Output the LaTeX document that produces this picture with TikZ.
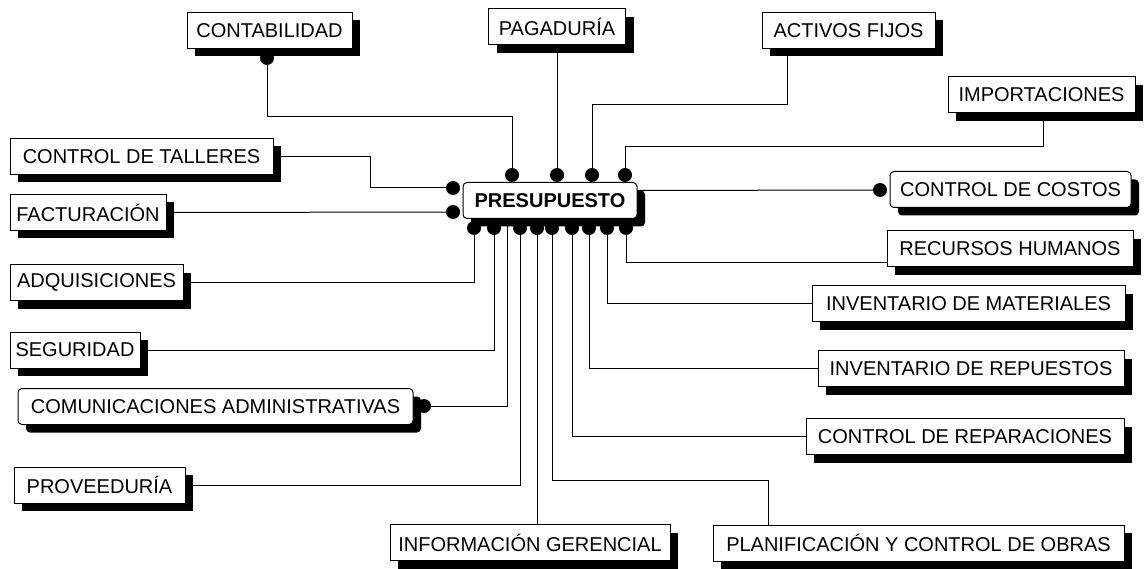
\documentclass[tikz,border=0pt]{standalone}
\usepackage{fontspec}
\setmainfont{Liberation Sans}
\usetikzlibrary{calc,shadows}
\tikzset{
  unit/.style={draw, line width=1pt, fill=white, minimum height=36, inner xsep=3,
    font=\fontsize{20}{24}\selectfont,
    drop shadow={shadow xshift=8pt, shadow yshift=-8pt, opacity=1, fill=black}},
  rounit/.style={unit, rounded corners=4pt},
  pin/.style={circle, fill=black, inner sep=0pt, minimum size=14},
  wire/.style={line width=1pt}
}

\begin{document}
\begin{tikzpicture}[x=1pt, y=-1pt]
  \useasboundingbox (0,0) rectangle (1145,569);
  % central box
  \node[rounit, minimum width=174, font=\fontsize{20}{24}\selectfont\bfseries] (presu) at (550,200.5) {PRESUPUESTO};
  % top row
  \node[unit, minimum width=165] (conta) at (269.5,30.5) {CONTABILIDAD};
  \node[unit, minimum width=137] (paga) at (557,27) {PAGADURÍA};
  \node[unit, minimum width=173] (activos) at (848.5,30.5) {ACTIVOS FIJOS};
  \node[unit, minimum width=187] (impo) at (1041.5,95) {IMPORTACIONES};
  % left column
  \node[unit, minimum width=263] (talleres) at (141.5,156.5) {CONTROL DE TALLERES};
  \node[unit, minimum width=156] (factu) at (88,212.5) {FACTURACIÓN};
  \node[unit, minimum width=173] (adqui) at (96.5,282.5) {ADQUISICIONES};
  \node[unit, minimum width=130] (segur) at (75,350) {SEGURIDAD};
  \node[rounit, minimum width=395] (comunic) at (215.5,406.5) {COMUNICACIONES ADMINISTRATIVAS};
  \node[unit, minimum width=171] (proveed) at (99.5,485) {PROVEEDURÍA};
  % right column
  \node[rounit, minimum width=241] (costos) at (1010.5,189.5) {CONTROL DE COSTOS};
  \node[unit, minimum width=246] (recursos) at (1010,249) {RECURSOS HUMANOS};
  \node[unit, minimum width=313] (materiales) at (968.5,303.5) {INVENTARIO DE MATERIALES};
  \node[unit, minimum width=306] (repuestos) at (971,368.5) {INVENTARIO DE REPUESTOS};
  \node[unit, minimum width=318] (reparac) at (965,436.5) {CONTROL DE REPARACIONES};
  % bottom row
  \node[unit, minimum width=280] (infoger) at (530,542.5) {INFORMACIÓN GERENCIAL};
  \node[unit, minimum width=411] (planif) at (918.5,543) {PLANIFICACIÓN Y CONTROL DE OBRAS};

  % pins
  \node[pin] (t1) at (512,175) {};
  \node[pin] (t2) at (557,175) {};
  \node[pin] (t3) at (592,175) {};
  \node[pin] (t4) at (625,175) {};
  \node[pin] (l1) at (453,188) {};
  \node[pin] (l2) at (453,212) {};
  \foreach \i/\x in {1/474,2/494,3/520,4/537,5/552,6/572,7/589,8/607,9/626}
    \node[pin] (b\i) at (\x,228) {};
  \node[pin] (cd) at (267,58) {};
  \node[pin] (cc) at (880,190) {};
  \node[pin] (cm) at (424,406) {};
  \coordinate (tap) at (507,222);

  % wires
  \draw[wire] (cd.center) -- ++(0,59) -| (t1.center);
  \draw[wire] (paga.south) -- (t2.center);
  \draw[wire] ([xshift=-61pt]activos.south) -- ++(0,56) -| (t3.center);
  \draw[wire] ([xshift=2pt]impo.south) -- ++(0,33) -| (t4.center);
  \draw[wire] (talleres.east) -- ++(97,0) |- (l1.center);
  \draw[wire] (factu.east) -- (l2.center);
  \draw[wire] ([yshift=10pt]presu.east) -- (cc.center);
  \draw[wire] (b9.center) |- ([yshift=-14pt]recursos.west);
  \draw[wire] (b8.center) |- (materiales.west);
  \draw[wire] (b7.center) |- (repuestos.west);
  \draw[wire] (b6.center) |- (reparac.west);
  \draw[wire] (b5.center) -- ++(0,252) -| ([xshift=-150.5pt]planif.north);
  \draw[wire] (b4.center) -- (b4.center |- infoger.north);
  \draw[wire] (b3.center) |- (proveed.east);
  \draw[wire] (tap) |- (cm.center);
  \draw[wire] (b2.center) |- (segur.east);
  \draw[wire] (b1.center) |- (adqui.east);
\end{tikzpicture}
\end{document}
